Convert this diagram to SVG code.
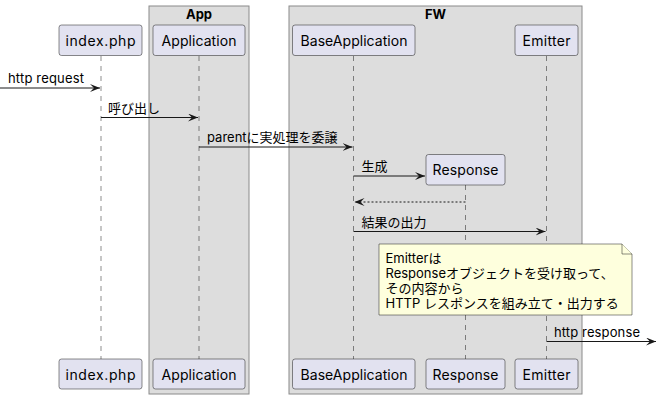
<svg xmlns="http://www.w3.org/2000/svg" width="659" height="400" viewBox="0 0 659 400">
<style>
.grp{fill:#DDDDDD;stroke:#8a8a8a;stroke-width:1}
.gt{font-family:Inter,"Noto Sans CJK JP",sans-serif;font-size:13px;font-weight:bold;fill:#000;text-anchor:middle}
.part{fill:#E2E2F0;stroke:#181818;stroke-width:0.5}
.pt{font-family:Inter,"Noto Sans CJK JP",sans-serif;font-size:14px;fill:#000;text-anchor:middle}
.life{stroke:#181818;stroke-width:0.5;stroke-dasharray:5,5;fill:none}
.msg{stroke:#181818;stroke-width:1;fill:none}
.ret{stroke:#181818;stroke-width:1;fill:none;stroke-dasharray:2,2}
.mt{font-family:Inter,"Noto Sans CJK JP",sans-serif;font-size:13px;fill:#000}
.note{fill:#FEFFDD;stroke:#181818;stroke-width:0.5}
</style>
<defs>
<marker id="ah" markerUnits="userSpaceOnUse" markerWidth="11" markerHeight="9" refX="10" refY="4" orient="auto">
<path d="M0,0 L10,4 L0,8 L4,4 Z" fill="#181818"/>
</marker>
</defs>
<g id="group-App">
<rect class="grp" x="149" y="6" width="100" height="388"/>
<text class="gt" x="199" y="19">App</text>
</g>
<g id="group-FW">
<rect class="grp" x="289" y="6" width="293" height="388"/>
<text class="gt" x="435.5" y="19">FW</text>
</g>
<g id="lifelines">
<line class="life" x1="101" y1="56" x2="101" y2="359"/>
<line class="life" x1="199" y1="56" x2="199" y2="359"/>
<line class="life" x1="353.5" y1="56" x2="353.5" y2="359"/>
<line class="life" x1="465.5" y1="185" x2="465.5" y2="359"/>
<line class="life" x1="546.5" y1="56" x2="546.5" y2="359"/>
</g>
<g id="index.php">
<rect class="part" x="59" y="25" width="83" height="30.5" rx="2.5"/>
<text class="pt" x="100.5" y="45.5" textLength="70">index.php</text>
<rect class="part" x="59" y="359" width="83" height="30" rx="2.5"/>
<text class="pt" x="100.5" y="379.5" textLength="70">index.php</text>
</g>
<g id="Application">
<rect class="part" x="153" y="25" width="92" height="30.5" rx="2.5"/>
<text class="pt" x="199" y="45.5" textLength="75">Application</text>
<rect class="part" x="153" y="359" width="92" height="30" rx="2.5"/>
<text class="pt" x="199" y="379.5" textLength="75">Application</text>
</g>
<g id="BaseApplication">
<rect class="part" x="292.5" y="25" width="122.5" height="30.5" rx="2.5"/>
<text class="pt" x="354" y="45.5" textLength="107">BaseApplication</text>
<rect class="part" x="292.5" y="359" width="122.5" height="30" rx="2.5"/>
<text class="pt" x="354" y="379.5" textLength="107">BaseApplication</text>
</g>
<g id="Response">
<rect class="part" x="426" y="154.5" width="79" height="30.5" rx="2.5"/>
<text class="pt" x="465.5" y="175" textLength="66">Response</text>
<rect class="part" x="426" y="359" width="79" height="30" rx="2.5"/>
<text class="pt" x="465.5" y="379.5" textLength="66">Response</text>
</g>
<g id="Emitter">
<rect class="part" x="515" y="25" width="63" height="30.5" rx="2.5"/>
<text class="pt" x="546.5" y="45.5" textLength="48">Emitter</text>
<rect class="part" x="515" y="359" width="63" height="30" rx="2.5"/>
<text class="pt" x="546.5" y="379.5" textLength="48">Emitter</text>
</g>
<g id="connectors">
<line class="msg" x1="0" y1="88" x2="100" y2="88" marker-end="url(#ah)"/>
<text class="mt" x="8" y="83" textLength="76">http request</text>
<line class="msg" x1="101" y1="117.5" x2="198" y2="117.5" marker-end="url(#ah)"/>
<text class="mt" x="108" y="112.5">呼び出し</text>
<line class="msg" x1="199" y1="147" x2="352.5" y2="147" marker-end="url(#ah)"/>
<text class="mt" x="207" y="142">parentに実処理を委譲</text>
<line class="msg" x1="353.5" y1="176" x2="425" y2="176" marker-end="url(#ah)"/>
<text class="mt" x="361.5" y="171">生成</text>
<line class="ret" x1="465.5" y1="202" x2="354.5" y2="202" marker-end="url(#ah)"/>
<line class="msg" x1="353.5" y1="231.5" x2="545.5" y2="231.5" marker-end="url(#ah)"/>
<text class="mt" x="361.5" y="226.5">結果の出力</text>
<line class="msg" x1="546.5" y1="341.5" x2="656" y2="341.5" marker-end="url(#ah)"/>
<text class="mt" x="554" y="336.5" textLength="86">http response</text>
</g>
<g id="note">
<path class="note" d="M379,244 L622,244 L632,254 L632,315 L379,315 Z"/>
<path class="note" d="M622,244 L622,254 L632,254"/>
<text class="mt" x="385.5" y="262.5">Emitterは</text>
<text class="mt" x="385.5" y="277.5">Responseオブジェクトを受け取って、</text>
<text class="mt" x="385.5" y="292.5">その内容から</text>
<text class="mt" x="385.5" y="307.5">HTTP レスポンスを組み立て・出力する</text>
</g>
</svg>
